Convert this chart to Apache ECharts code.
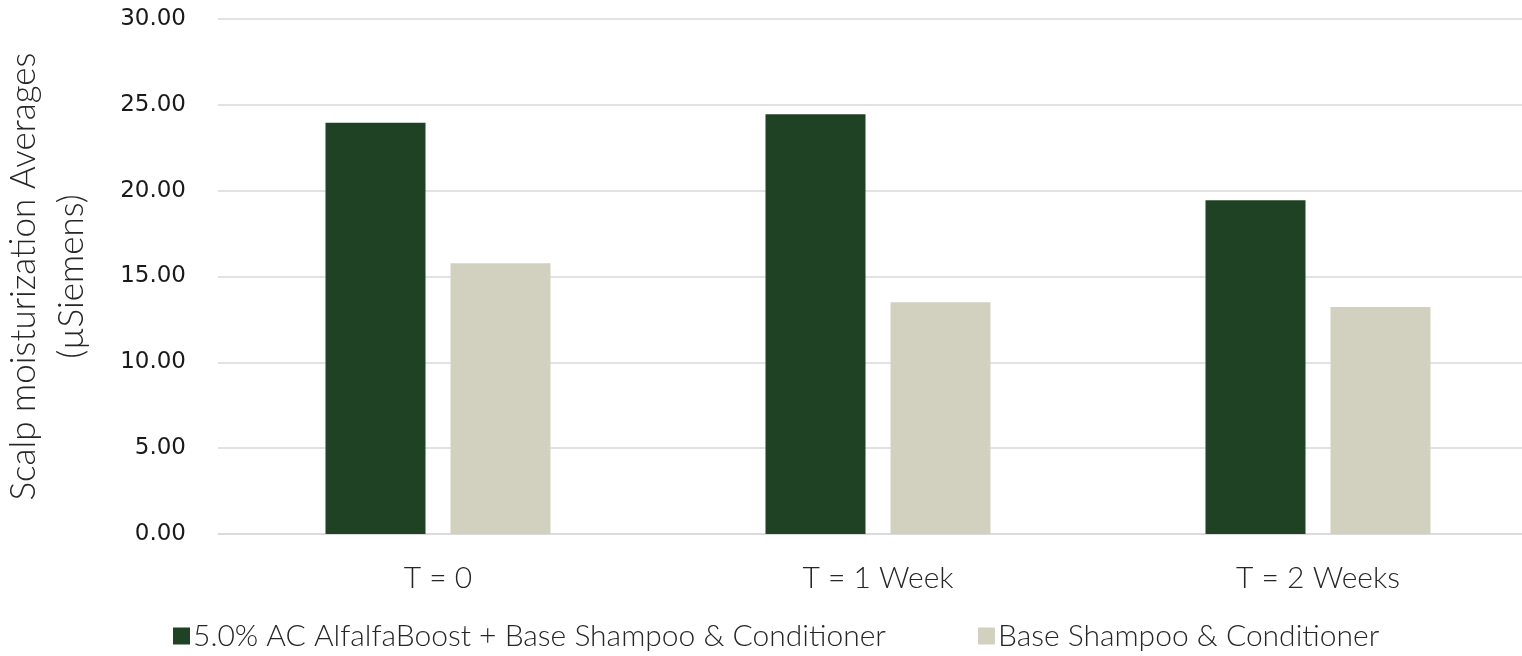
<!DOCTYPE html>
<html>
<head>
<meta charset="utf-8">
<script src="https://cdn.jsdelivr.net/npm/echarts@6/dist/echarts.min.js"></script>
<style>
  html, body { margin: 0; padding: 0; background: #fff; }
  #chart { width: 1522px; height: 656px; }
</style>
</head>
<body>
<div id="chart"></div>
<script>
// Scalp moisturization readings per time point
const categories = ['T = 0', 'T = 1 Week', 'T = 2 Weeks'];
const seriesNames = ['5.0% AC AlfalfaBoost + Base Shampoo & Conditioner', 'Base Shampoo & Conditioner'];
const alfalfaValues = [23.96, 24.45, 19.44];
const baseValues = [15.77, 13.50, 13.22];
const yTicks = { min: 0, max: 30, interval: 5 };

const FONT = 'Lato, "Open Sans", sans-serif';

const chart = echarts.init(document.getElementById('chart'));
chart.setOption({
  animation: false,
  backgroundColor: '#ffffff',
  grid: {
    left: 218, right: -16, top: 19, bottom: 122,
    containLabel: false, outerBoundsMode: 'none'
  },
  legend: {
    bottom: 0,
    left: 168,
    itemWidth: 17,
    itemHeight: 17,
    itemGap: 92,
    icon: 'rect',
    textStyle: { fontFamily: FONT, fontWeight: 300, fontSize: 30, color: '#262626', padding: [0, 0, 0, -2] },
    data: seriesNames
  },
  xAxis: {
    type: 'category',
    data: categories,
    axisLine: { show: true, lineStyle: { color: '#d9d9d9', width: 1.5 } },
    axisTick: { show: false },
    axisLabel: { fontFamily: FONT, fontWeight: 300, fontSize: 30, color: '#262626', margin: 29 }
  },
  yAxis: {
    type: 'value',
    min: yTicks.min,
    max: yTicks.max,
    interval: yTicks.interval,
    name: 'Scalp moisturization Averages\n(µSiemens)',
    nameLocation: 'middle',
    nameRotate: 90,
    nameGap: 122,
    nameTextStyle: { fontFamily: FONT, fontWeight: 300, fontSize: 35, color: '#262626', lineHeight: 48 },
    axisLine: { show: false },
    axisTick: { show: false },
    splitLine: { lineStyle: { color: '#d9d9d9', width: 1.5 } },
    axisLabel: {
      fontFamily: '"DejaVu Sans", sans-serif', fontSize: 23, color: '#1a1a1a', margin: 32,
      formatter: v => v.toFixed(2)
    }
  },
  series: [
    {
      name: seriesNames[0],
      type: 'bar',
      data: alfalfaValues,
      barWidth: 100,
      barGap: '25%',
      itemStyle: { color: '#1f4224' }
    },
    {
      name: seriesNames[1],
      type: 'bar',
      data: baseValues,
      barWidth: 100,
      itemStyle: { color: '#d2d1c0' }
    }
  ]
});
</script>
</body>
</html>
